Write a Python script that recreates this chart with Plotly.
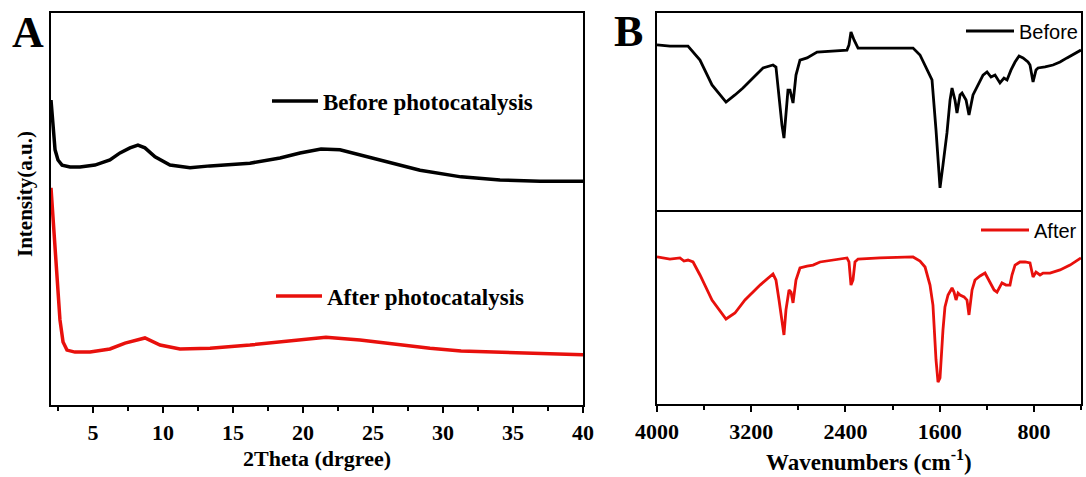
import plotly.graph_objects as go

# ---------------- Panel A : XRD ----------------
xrd_before_2theta = [2.0, 2.14, 2.29, 2.5, 2.79, 3.36, 4.07, 5.14, 6.21, 6.93, 7.64, 8.21, 8.71, 9.43,
                     10.5, 11.93, 13.36, 16.21, 18.36, 19.79, 21.29, 22.64, 24.07, 26.29, 28.36,
                     31.29, 34.07, 36.93, 40.0]
xrd_before_int = [77.8, 70.2, 65.1, 62.5, 61.2, 60.7, 60.7, 61.2, 62.5, 64.3, 65.6, 66.3, 65.6, 63.3,
                  61.2, 60.5, 61.0, 61.7, 63.0, 64.3, 65.3, 65.1, 63.8, 62.0, 59.9,
                  58.2, 57.4, 57.1, 57.1]

xrd_after_2theta = [2.0, 2.21, 2.43, 2.64, 2.86, 3.14, 3.71, 4.79, 6.21, 7.29, 8.71, 9.79, 11.21,
                    13.36, 16.21, 19.07, 21.64, 24.07, 26.29, 29.07, 31.29, 35.5, 40.0]
xrd_after_int = [55.4, 44.6, 31.9, 21.7, 16.1, 14.0, 13.5, 13.5, 14.3, 15.8, 17.1, 15.3, 14.3,
                 14.5, 15.3, 16.3, 17.3, 16.6, 15.6, 14.5, 13.8, 13.3, 12.8]

# ---------------- Panel B : FTIR ----------------
ir_before_wn = [4000, 3890, 3737, 3635, 3533, 3414, 3338, 3270, 3100, 3015, 2990, 2964, 2939, 2922,
                2905, 2888, 2871, 2845, 2820, 2786, 2726, 2641, 2387, 2370, 2353, 2327, 2293, 2107,
                1826, 1767, 1724, 1665, 1631, 1597, 1572, 1538, 1512, 1495, 1470, 1453, 1427, 1410,
                1376, 1351, 1317, 1283, 1232, 1198, 1164, 1130, 1088, 1054, 1028, 994, 960, 926,
                892, 850, 833, 807, 782, 765, 705, 638, 578, 519, 459, 400]
ir_before_t = [83.8, 83.2, 83.2, 76.1, 63.5, 54.8, 58.4, 61.9, 72.1, 73.6, 72.6, 55.8, 43.1, 36.5,
               48.2, 60.9, 60.9, 54.3, 68.5, 76.1, 77.2, 80.2, 81.2, 83.8, 90.4, 86.3, 82.2, 82.2,
               82.2, 78.7, 73.6, 66.0, 40.6, 11.2, 22.8, 39.1, 55.8, 61.9, 55.8, 49.2, 58.4, 59.4,
               55.8, 48.2, 58.4, 62.4, 68.5, 70.1, 67.5, 68.5, 64.5, 67.0, 66.0, 71.1, 75.1, 78.2,
               77.2, 75.1, 73.6, 65.0, 71.1, 72.1, 72.6, 73.6, 75.1, 77.2, 79.2, 81.2]

ir_after_wn = [4000, 3890, 3805, 3771, 3737, 3694, 3635, 3533, 3414, 3338, 3253, 3125, 3015, 2990,
               2964, 2939, 2922, 2905, 2879, 2862, 2845, 2820, 2786, 2726, 2675, 2616, 2387, 2370,
               2353, 2336, 2319, 2293, 2107, 1826, 1767, 1724, 1682, 1657, 1631, 1614, 1597, 1572,
               1555, 1529, 1495, 1478, 1461, 1444, 1427, 1393, 1368, 1351, 1325, 1300, 1257, 1215,
               1172, 1138, 1113, 1088, 1071, 1037, 1003, 986, 960, 918, 875, 833, 807, 782, 748,
               722, 663, 578, 493, 400]
ir_after_t = [75.8, 74.7, 75.3, 73.7, 74.2, 73.2, 66.5, 53.6, 43.8, 46.9, 53.6, 61.3, 67.0, 63.9,
              53.6, 43.3, 35.6, 48.5, 58.8, 57.7, 52.1, 63.9, 70.1, 71.1, 71.6, 73.2, 75.3, 73.2,
              61.3, 63.9, 73.2, 74.7, 75.3, 75.8, 73.7, 70.6, 61.3, 51.0, 22.7, 11.3, 13.4, 38.1,
              50.0, 56.2, 59.8, 57.7, 53.6, 57.2, 56.2, 55.2, 53.6, 45.9, 58.8, 63.9, 66.0, 67.5,
              62.9, 58.8, 57.7, 60.8, 62.4, 61.3, 61.3, 66.5, 71.6, 73.2, 73.2, 72.7, 65.5, 68.0,
              66.5, 67.5, 67.5, 69.1, 71.6, 75.3]

W, H = 1086, 477

def fx(px):
    return px / W

def fy(py):
    return 1 - py / H

SERIF = "Liberation Serif"
SANS = "Liberation Sans"

fig = go.Figure()

fig.add_trace(go.Scatter(x=xrd_before_2theta, y=xrd_before_int, mode="lines",
                         line=dict(color="black", width=3.5), name="Before photocatalysis",
                         xaxis="x", yaxis="y", legend="legend"))
fig.add_trace(go.Scatter(x=xrd_after_2theta, y=xrd_after_int, mode="lines",
                         line=dict(color="#e8100c", width=3.5), name="After photocatalysis",
                         xaxis="x", yaxis="y", legend="legend2"))
fig.add_trace(go.Scatter(x=ir_before_wn, y=ir_before_t, mode="lines",
                         line=dict(color="black", width=2.8), name="Before",
                         xaxis="x2", yaxis="y2", legend="legend3"))
fig.add_trace(go.Scatter(x=ir_after_wn, y=ir_after_t, mode="lines",
                         line=dict(color="#e8100c", width=2.8), name="After",
                         xaxis="x3", yaxis="y3", legend="legend4"))

axis_common = dict(showline=True, linecolor="black", linewidth=2.2,
                   showgrid=False, zeroline=False, automargin=False)
tickfont = dict(family=SERIF, size=22, color="black", weight="bold")

A_left, A_right, A_top, A_bot = 51, 583, 13, 405
B_left, B_right, B_top, B_mid, B_bot = 657, 1081, 13, 210, 404

fig.update_layout(
    width=W, height=H, autosize=False,
    margin=dict(l=0, r=0, t=0, b=0, pad=0),
    paper_bgcolor="white", plot_bgcolor="white",
    xaxis=dict(domain=[fx(A_left), fx(A_right)], range=[2, 40], anchor="y", mirror=True,
               ticks="outside", ticklen=6, tickwidth=2, tickcolor="black",
               tick0=0, dtick=5, tickfont=tickfont,
               minor=dict(ticks="outside", ticklen=4, tickwidth=2, tickcolor="black", dtick=2.5, tick0=0),
               **axis_common),
    yaxis=dict(domain=[fy(A_bot), fy(A_top)], range=[0, 100], anchor="x", mirror=True,
               showticklabels=False, ticks="", **axis_common),
    xaxis2=dict(domain=[fx(B_left), fx(B_right)], range=[4000, 400], anchor="y2", mirror=True,
                showticklabels=False, ticks="", **axis_common),
    yaxis2=dict(domain=[fy(B_mid), fy(B_top)], range=[0, 100], anchor="x2", mirror=True,
                showticklabels=False, ticks="", **axis_common),
    xaxis3=dict(domain=[fx(B_left), fx(B_right)], range=[4000, 400], anchor="y3", mirror=False,
                ticks="outside", ticklen=6, tickwidth=2, tickcolor="black",
                tick0=0, dtick=800, tickfont=tickfont,
                minor=dict(ticks="outside", ticklen=4, tickwidth=2, tickcolor="black", dtick=400, tick0=0),
                **axis_common),
    yaxis3=dict(domain=[fy(B_bot), fy(B_mid)], range=[0, 100], anchor="x3", mirror=True,
                showticklabels=False, ticks="", **axis_common),
    showlegend=True,
    legend=dict(x=fx(538), y=fy(101), xanchor="right", yanchor="middle", bgcolor="rgba(0,0,0,0)",
                font=dict(family=SERIF, size=23, color="black", weight="bold"), itemwidth=46),
    legend2=dict(x=fx(530), y=fy(296), xanchor="right", yanchor="middle", bgcolor="rgba(0,0,0,0)",
                 font=dict(family=SERIF, size=23, color="black", weight="bold"), itemwidth=46),
    legend3=dict(x=fx(1083), y=fy(31), xanchor="right", yanchor="middle", bgcolor="rgba(0,0,0,0)",
                 font=dict(family=SANS, size=20, color="black"), itemwidth=48),
    legend4=dict(x=fx(1082), y=fy(230), xanchor="right", yanchor="middle", bgcolor="rgba(0,0,0,0)",
                 font=dict(family=SANS, size=20, color="black"), itemwidth=48),
)

ann_font = dict(family=SERIF, size=22, color="black", weight="bold")
fig.add_annotation(x=fx(317), y=fy(458), xref="paper", yref="paper", text="2Theta (drgree)",
                   showarrow=False, font=ann_font, xanchor="center", yanchor="middle")
fig.add_annotation(x=fx(869), y=fy(460), xref="paper", yref="paper", text="Wavenumbers (cm<sup>-1</sup>)",
                   showarrow=False, font=dict(family=SERIF, size=23, color="black", weight="bold"),
                   xanchor="center", yanchor="middle")
fig.add_annotation(x=fx(25), y=fy(194), xref="paper", yref="paper", text="Intensity(a.u.)",
                   showarrow=False, font=dict(family=SERIF, size=21, color="black", weight="bold"),
                   textangle=-90, xanchor="center", yanchor="middle")
fig.add_annotation(x=fx(28), y=fy(33), xref="paper", yref="paper", text="A",
                   showarrow=False, font=dict(family=SERIF, size=44, color="black", weight="bold"),
                   xanchor="center", yanchor="middle")
fig.add_annotation(x=fx(628), y=fy(31), xref="paper", yref="paper", text="B",
                   showarrow=False, font=dict(family=SERIF, size=44, color="black", weight="bold"),
                   xanchor="center", yanchor="middle")

fig.write_html("out.html")
